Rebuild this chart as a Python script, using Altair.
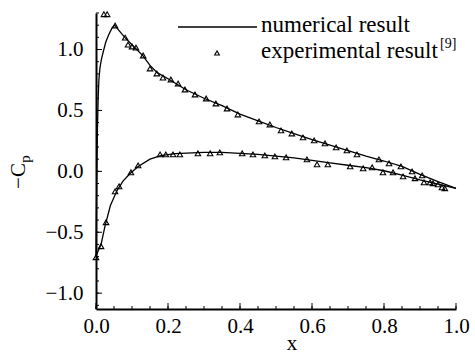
import altair as alt
import pandas as pd

# Numerical result (upper and lower surfaces)
up_x = [0.0, 0.002, 0.004, 0.006, 0.008, 0.011, 0.015, 0.02, 0.027, 0.035, 0.045, 0.052, 0.06, 0.08, 0.1,
        0.13, 0.15, 0.17, 0.2, 0.25, 0.3, 0.35, 0.4, 0.45, 0.5, 0.55, 0.6, 0.65, 0.7, 0.75, 0.8, 0.85,
        0.9, 0.95, 1.0]
up_cp = [-0.70, -0.10, 0.35, 0.60, 0.75, 0.85, 0.92, 0.98, 1.06, 1.12, 1.18, 1.20, 1.17, 1.10, 1.04,
         0.95, 0.87, 0.81, 0.76, 0.67, 0.60, 0.54, 0.47, 0.415, 0.36, 0.31, 0.26, 0.215, 0.17, 0.125,
         0.085, 0.04, -0.025, -0.085, -0.14]
lo_x = [0.0, 0.005, 0.014, 0.025, 0.04, 0.058, 0.075, 0.094, 0.117, 0.15, 0.18, 0.22, 0.3, 0.35, 0.4,
        0.45, 0.5, 0.55, 0.6, 0.65, 0.7, 0.75, 0.8, 0.85, 0.9, 0.95, 1.0]
lo_cp = [-0.70, -0.66, -0.60, -0.45, -0.28, -0.16, -0.08, -0.02, 0.04, 0.10, 0.13, 0.145, 0.155, 0.155,
         0.148, 0.14, 0.125, 0.11, 0.09, 0.07, 0.05, 0.03, 0.005, -0.03, -0.07, -0.105, -0.14]

# Experimental result
exp_up_x = [0.022, 0.031, 0.053, 0.081, 0.089, 0.1, 0.111, 0.131, 0.15, 0.169, 0.186, 0.208, 0.228,
            0.247, 0.275, 0.306, 0.333, 0.364, 0.394, 0.453, 0.483, 0.514, 0.544, 0.575, 0.606, 0.636,
            0.667, 0.697, 0.725, 0.786, 0.814, 0.847, 0.878, 0.906, 0.928, 0.95, 0.969]
exp_up_cp = [1.29, 1.29, 1.197, 1.098, 1.04, 1.025, 1.016, 0.951, 0.844, 0.803, 0.77, 0.754, 0.721,
             0.672, 0.631, 0.598, 0.557, 0.516, 0.467, 0.41, 0.385, 0.336, 0.311, 0.279, 0.254, 0.23,
             0.197, 0.172, 0.139, 0.098, 0.066, 0.041, 0.0, -0.033, -0.09, -0.107, -0.139]
exp_lo_x = [0.0, 0.014, 0.028, 0.053, 0.064, 0.097, 0.117, 0.178, 0.194, 0.214, 0.233, 0.283, 0.317,
            0.344, 0.406, 0.436, 0.469, 0.497, 0.528, 0.586, 0.614, 0.644, 0.706, 0.742, 0.767, 0.797,
            0.825, 0.853, 0.886, 0.911, 0.936, 0.961]
exp_lo_cp = [-0.705, -0.615, -0.418, -0.164, -0.123, -0.008, 0.049, 0.139, 0.139, 0.139, 0.139, 0.148,
             0.148, 0.156, 0.148, 0.139, 0.131, 0.123, 0.115, 0.098, 0.057, 0.057, 0.041, 0.025, 0.033,
             -0.008, -0.008, -0.041, -0.057, -0.09, -0.098, -0.131]

x_ticks = [0.0, 0.2, 0.4, 0.6, 0.8, 1.0]
y_ticks = [-1.0, -0.5, 0.0, 0.5, 1.0]
x_minor = [round(0.05 * i, 2) for i in range(21)]
y_minor = [round(-1.1 + 0.1 * i, 1) for i in range(25)]

W, H = 360, 296
FONT = "Liberation Serif"

line_df = pd.DataFrame({
    "x": up_x + lo_x,
    "cp": up_cp + lo_cp,
    "surf": ["upper"] * len(up_x) + ["lower"] * len(lo_x),
    "i": list(range(len(up_x))) + list(range(len(lo_x))),
})
pts_df = pd.DataFrame({"x": exp_up_x + exp_lo_x, "cp": exp_up_cp + exp_lo_cp})

xs = alt.Scale(domain=[0, 1.0], nice=False, zero=False)
ys = alt.Scale(domain=[-1.13, 1.3], nice=False, zero=False)

x_axis = alt.Axis(values=x_ticks, format=".1f", ticks=False, grid=False, domainColor="black",
                  domainWidth=2, labelFont=FONT, labelFontSize=21, labelColor="black",
                  labelPadding=6, labelFlush=False, labelOverlap=False, title="")
y_axis = alt.Axis(values=y_ticks, format=".1f", ticks=False, grid=False, domainColor="black",
                  domainWidth=2, labelFont=FONT, labelFontSize=21, labelColor="black",
                  labelPadding=13, labelFlush=False, labelOverlap=False, title="")

lines = alt.Chart(line_df).mark_line(color="black", strokeWidth=1.3).encode(
    x=alt.X("x:Q", scale=xs, axis=x_axis),
    y=alt.Y("cp:Q", scale=ys, axis=y_axis),
    detail="surf:N",
    order="i:Q",
)

points = alt.Chart(pts_df).mark_point(shape="triangle-up", filled=False, color="black",
                                      size=30, strokeWidth=1.1, opacity=1).encode(
    x=alt.X("x:Q", scale=xs),
    y=alt.Y("cp:Q", scale=ys),
)

xt_major = alt.Chart(pd.DataFrame({"v": x_ticks})).mark_rule(color="black", strokeWidth=1).encode(
    x=alt.X("v:Q", scale=xs), y=alt.value(H), y2=alt.value(H - 6))
xt_minor = alt.Chart(pd.DataFrame({"v": x_minor})).mark_rule(color="black", strokeWidth=1).encode(
    x=alt.X("v:Q", scale=xs), y=alt.value(H), y2=alt.value(H - 3))
yt_major = alt.Chart(pd.DataFrame({"v": y_ticks})).mark_rule(color="black", strokeWidth=1).encode(
    y=alt.Y("v:Q", scale=ys), x=alt.value(0), x2=alt.value(6))
yt_minor = alt.Chart(pd.DataFrame({"v": y_minor})).mark_rule(color="black", strokeWidth=1).encode(
    y=alt.Y("v:Q", scale=ys), x=alt.value(0), x2=alt.value(3))

# Legend
leg_line = alt.Chart(pd.DataFrame({"a": [0]})).mark_rule(color="black", strokeWidth=1.3).encode(
    x=alt.value(82), x2=alt.value(161), y=alt.value(14))
leg_text1 = alt.Chart(pd.DataFrame({"t": ["numerical result"]})).mark_text(
    font=FONT, fontSize=23, align="left", baseline="middle", color="black").encode(
    text="t:N", x=alt.value(165), y=alt.value(12))
leg_pt = alt.Chart(pd.DataFrame({"a": [0]})).mark_point(
    shape="triangle-up", filled=False, color="black", size=22, strokeWidth=1.1, opacity=1).encode(
    x=alt.value(121), y=alt.value(40))
leg_text2 = alt.Chart(pd.DataFrame({"t": ["experimental result"]})).mark_text(
    font=FONT, fontSize=23, align="left", baseline="middle", color="black").encode(
    text="t:N", x=alt.value(165), y=alt.value(38))
leg_sup = alt.Chart(pd.DataFrame({"t": ["[9]"]})).mark_text(
    font=FONT, fontSize=14, align="left", baseline="middle", color="black").encode(
    text="t:N", x=alt.value(344), y=alt.value(31))

# Axis titles
ytitle = alt.Chart(pd.DataFrame({"t": ["\u2212C"]})).mark_text(
    font=FONT, fontSize=21, angle=270, align="center", baseline="middle", color="black").encode(
    text="t:N", x=alt.value(-77), y=alt.value(163))
ysub = alt.Chart(pd.DataFrame({"t": ["p"]})).mark_text(
    font=FONT, fontSize=15, angle=270, align="center", baseline="middle", color="black").encode(
    text="t:N", x=alt.value(-71), y=alt.value(146))
xtitle = alt.Chart(pd.DataFrame({"t": ["x"]})).mark_text(
    font=FONT, fontSize=21, align="center", baseline="alphabetic", color="black").encode(
    text="t:N", x=alt.value(196), y=alt.value(337))

chart = alt.layer(
    lines, points, xt_major, xt_minor, yt_major, yt_minor,
    leg_line, leg_text1, leg_pt, leg_text2, leg_sup, ytitle, ysub, xtitle,
).properties(
    width=W, height=H,
    padding={"left": 96, "top": 13, "right": 19, "bottom": 46},
    autosize=alt.AutoSizeParams(type="none"),
).configure_view(stroke=None)

chart.save("out.html", embed_options={"renderer": "svg", "actions": False})
